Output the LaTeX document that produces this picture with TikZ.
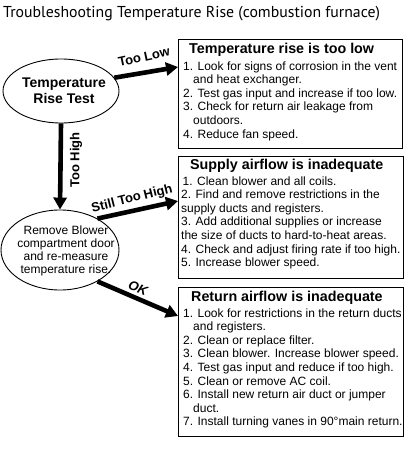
\documentclass[tikz,border=0pt]{standalone}
\usepackage{fontspec}
\setmainfont{Liberation Sans}
\newfontfamily\titlefont{PT Sans}
\usetikzlibrary{shapes.geometric,arrows.meta,calc}
\begin{document}
\begin{tikzpicture}[x=1pt,y=-1pt,
  box/.style={draw, line width=1.3pt, rectangle, anchor=north west, inner sep=0pt},
  oval/.style={draw, line width=0.9pt, ellipse, inner sep=0pt},
  big/.style={line width=4.6pt, -{Triangle[length=12pt,width=13pt]}},
  lbl/.style={font=\fontsize{13}{14}\selectfont\bfseries, inner sep=0pt},
  head/.style={font=\fontsize{14.3}{15}\selectfont\bfseries, anchor=west, inner sep=0pt},
  items/.style={font=\fontsize{12}{13.6}\selectfont, align=left, anchor=north west, inner sep=0pt},
  otext/.style={align=center, inner sep=0pt}]
\useasboundingbox (0,0) rectangle (408,452);
% title
\node[anchor=west, inner sep=0pt, font=\titlefont\fontsize{15.8}{17}\selectfont] (title) at (3,14) {Troubleshooting Temperature Rise (combustion furnace)};
% boxes
\node[box, minimum width=224pt, minimum height=109pt] (b1) at (178,39) {};
\node[box, minimum width=225pt, minimum height=122pt] (b2) at (178,156) {};
\node[box, minimum width=225pt, minimum height=149pt] (b3) at (178,287) {};
% box headings
\node[head] (h1) at (189,50) {Temperature rise is too low};
\node[head] (h2) at (190,166) {Supply airflow is inadequate};
\node[head] (h3) at (191,298) {Return airflow is inadequate};
% box items
\node[items] (i1) at (183,61.2) {1. Look for signs of corrosion in the vent\\
\hspace{10pt}and heat exchanger.\\
2. Test gas input and increase if too low.\\
3. Check for return air leakage from\\
\hspace{10pt}outdoors.\\
4. Reduce fan speed.};
\node[items] (i2) at (181,176.2) {\hspace{1.5pt}1. Clean blower and all coils.\\
2. Find and remove restrictions in the\\
supply ducts and registers.\\
3. Add additional supplies or increase\\
the size of ducts to hard-to-heat areas.\\
4. Check and adjust firing rate if too high.\\
5. Increase blower speed.};
\node[items] (i3) at (183,308.2) {1. Look for restrictions in the return ducts\\
\hspace{10pt}and registers.\\
2. Clean or replace filter.\\
3. Clean blower. Increase blower speed.\\
4. Test gas input and reduce if too high.\\
5. Clean or remove AC coil.\\
6. Install new return air duct or jumper\\
\hspace{10pt}duct.\\
7. Install turning vanes in 90\textdegree main return.};
% ellipses
\node[oval, minimum width=116pt, minimum height=64pt] (e1) at (61,91) {};
\node[otext, font=\fontsize{14}{15.5}\selectfont\bfseries] (e1t) at (64,91) {Temperature\\Rise Test};
\node[oval, minimum width=118pt, minimum height=80pt] (e2) at (60,250) {};
\node[otext, font=\fontsize{12}{13}\selectfont] (e2t) at (66,251) {Remove Blower\\compartment door\\and re-measure\\temperature rise.};
% connector end points
\coordinate (t1) at ($(b1.north west)+(0,28)$);
\coordinate (t3) at ($(b2.north west)+(0,45)$);
\coordinate (t4) at ($(b3.north west)+(0,29)$);
% arrows
\draw[big] (e1.14) -- (t1);
\draw[big] (e1.south) -- (e2.north);
\draw[big] (e2.40) -- (t3);
\draw[big] (e2.-40) -- (t4);
% labels
\node[lbl, rotate=12] (l1) at (144,57) {Too Low};
\node[lbl, rotate=90] (l2) at (76,160) {Too High};
\node[lbl, rotate=14] (l3) at (132,199) {Still Too High};
\node[lbl, rotate=-22, font=\fontsize{13}{14}\selectfont\bfseries\itshape] (l4) at (138,288) {OK};
\end{tikzpicture}
\end{document}
